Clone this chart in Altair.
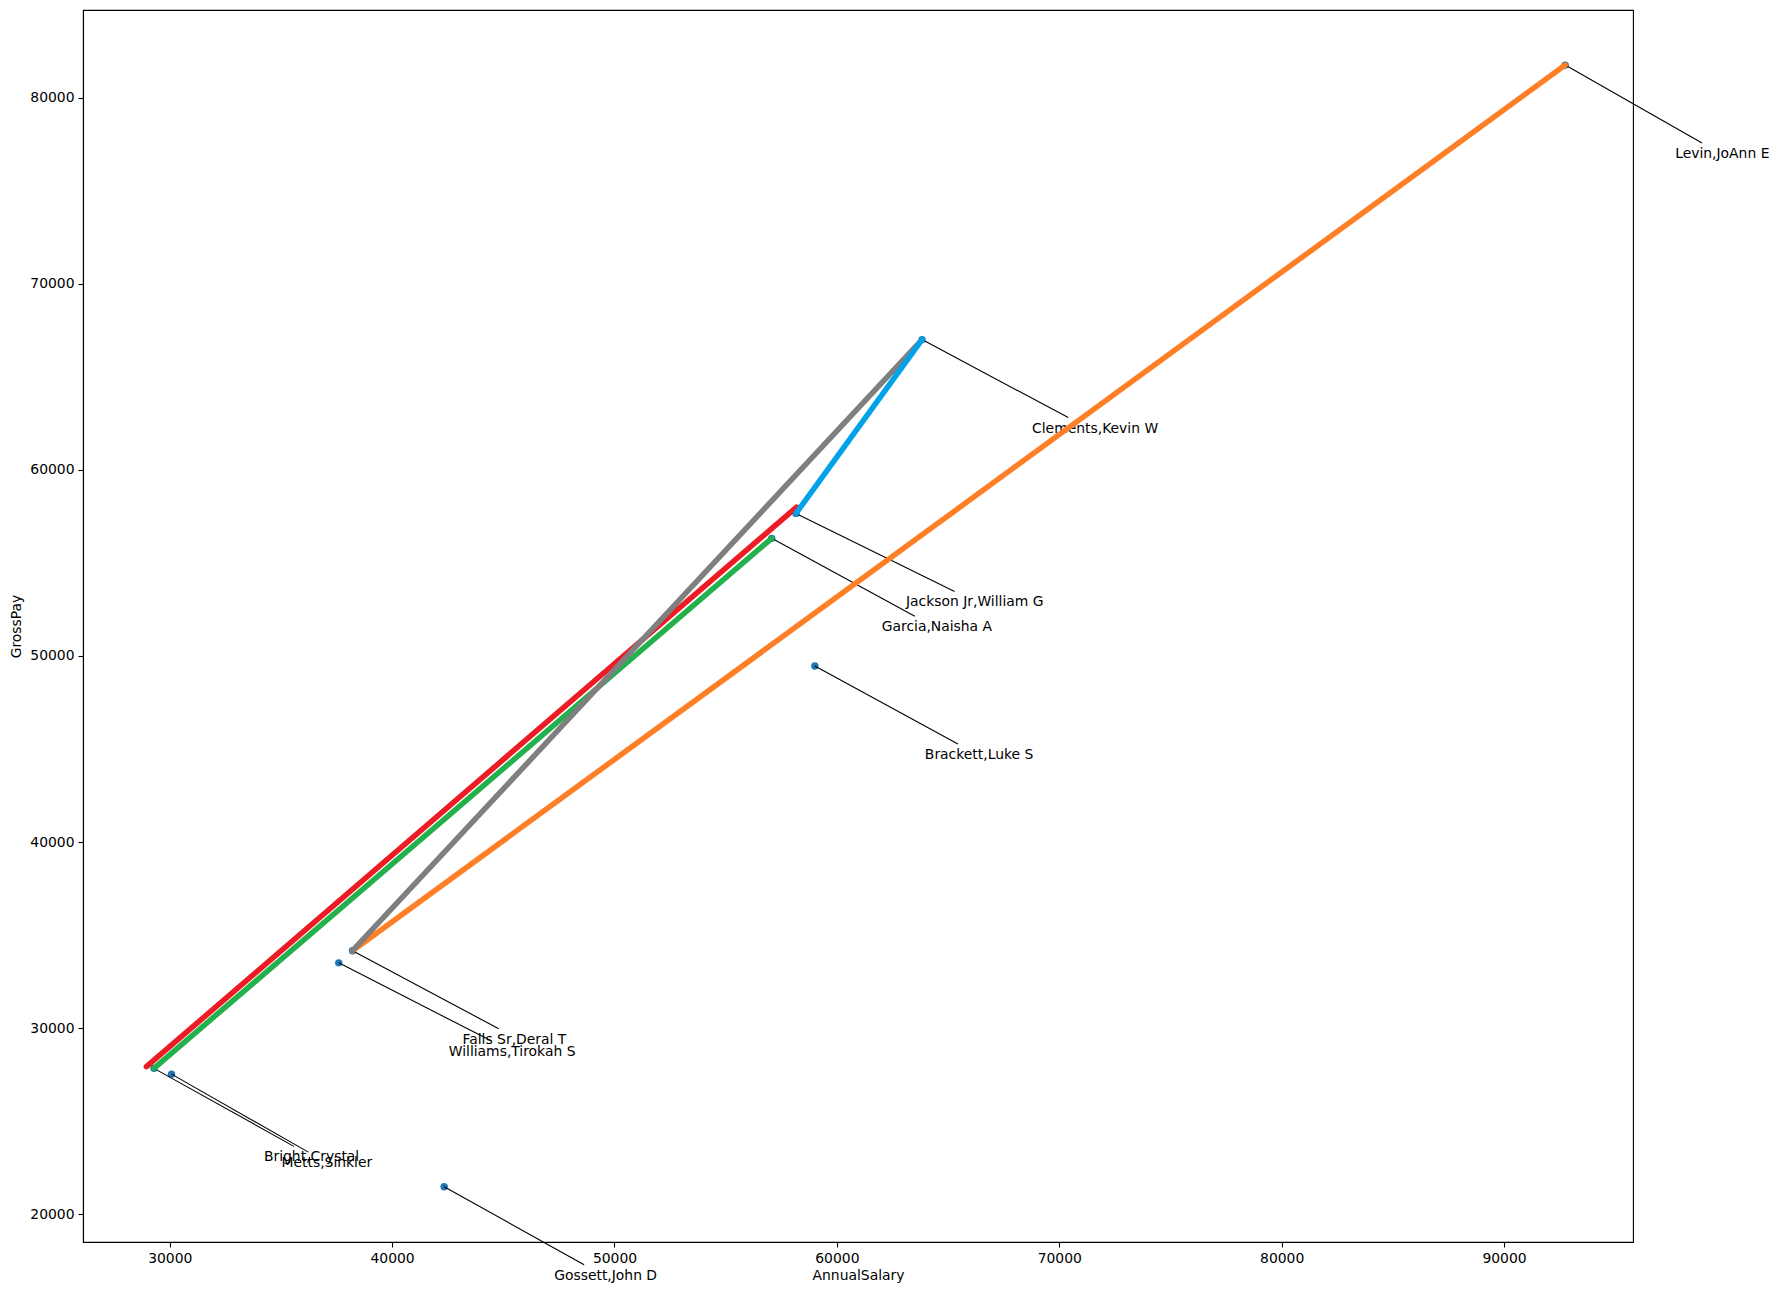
import altair as alt
import pandas as pd

# Annotated employees (blue scatter points)
names = ["Levin,JoAnn E", "Clements,Kevin W", "Jackson Jr,William G", "Garcia,Naisha A",
         "Brackett,Luke S", "Falls Sr,Deral T", "Williams,Tirokah S", "Bright,Crystal",
         "Metts,Sinkler", "Gossett,John D"]
annual_salary = [92750, 63830, 58160, 57070, 59010, 38220, 37600, 29290, 30080, 42340]
gross_pay = [81750, 67000, 57660, 56320, 49460, 34160, 33510, 27840, 27530, 21480]

# Coloured segments (drawn in this order)
seg_names = ["green", "red", "orange", "gray", "blue"]
seg_x0 = [29290, 28950, 38220, 38220, 58160]
seg_y0 = [27840, 27930, 34160, 34160, 57660]
seg_x1 = [57070, 58190, 92750, 63830, 63830]
seg_y1 = [56320, 58000, 81750, 67000, 67000]
seg_colors = ["#22B14C", "#ED1C24", "#FF7F27", "#7F7F7F", "#00A2E8"]

x_ticks = [30000, 40000, 50000, 60000, 70000, 80000, 90000]
y_ticks = [20000, 30000, 40000, 50000, 60000, 70000, 80000]
x_domain = [26100, 95800]
y_domain = [18510, 84710]

FONT = "DejaVu Sans"
W, H = 1550, 1232
TEXT_DX, TEXT_DY = 110, 89

pts = pd.DataFrame({"name": names, "AnnualSalary": annual_salary, "GrossPay": gross_pay})
segs = pd.DataFrame({"seg": seg_names, "x0": seg_x0, "y0": seg_y0, "x1": seg_x1, "y1": seg_y1})

xs = alt.Scale(domain=x_domain, nice=False, zero=False)
ys = alt.Scale(domain=y_domain, nice=False, zero=False)

xenc = alt.X("AnnualSalary:Q", scale=xs, title="AnnualSalary",
             axis=alt.Axis(values=x_ticks, format="d"))
yenc = alt.Y("GrossPay:Q", scale=ys, title="GrossPay",
             axis=alt.Axis(values=y_ticks, format="d"))

points = alt.Chart(pts).mark_circle(size=55, color="#1f77b4", opacity=1).encode(x=xenc, y=yenc)

leaders = []
for n, sx, gy in zip(names, annual_salary, gross_pay):
    w = 7.1 * len(n)
    t = (TEXT_DY - 11) / TEXT_DY
    ex = t * (TEXT_DX + w / 2)
    ey = TEXT_DY - 11
    d = pd.DataFrame({"AnnualSalary": [sx], "GrossPay": [gy]})
    leaders.append(
        alt.Chart(d).mark_rule(color="black", strokeWidth=1.1, x2Offset=ex, y2Offset=ey).encode(
            x=alt.X("AnnualSalary:Q", scale=xs),
            y=alt.Y("GrossPay:Q", scale=ys),
            x2="AnnualSalary:Q",
            y2="GrossPay:Q",
        )
    )

labels = alt.Chart(pts).mark_text(
    align="left", baseline="middle", dx=TEXT_DX, dy=TEXT_DY,
    font=FONT, fontSize=13.9, color="black"
).encode(x=alt.X("AnnualSalary:Q", scale=xs), y=alt.Y("GrossPay:Q", scale=ys), text="name:N")

lines = alt.Chart(segs).mark_rule(strokeWidth=5.5, strokeCap="round", opacity=1).encode(
    x=alt.X("x0:Q", scale=xs),
    y=alt.Y("y0:Q", scale=ys),
    x2="x1:Q",
    y2="y1:Q",
    color=alt.Color("seg:N", scale=alt.Scale(domain=seg_names, range=seg_colors), legend=None),
)

chart = alt.layer(points, *leaders, labels, lines).properties(
    width=W, height=H,
    autosize=alt.AutoSizeParams(type="none"),
    padding={"left": 83, "top": 10, "right": 144, "bottom": 53},
    background="white",
).configure_view(
    stroke="black", strokeWidth=1.1
).configure_axis(
    grid=False,
    labelFont=FONT, labelFontSize=13.9, labelColor="black",
    titleFont=FONT, titleFontSize=13.9, titleFontWeight="normal", titleColor="black",
    tickColor="black", tickSize=5, tickWidth=1.1,
    domainColor="black", domainWidth=1.1,
    labelPadding=4,
).configure_axisX(
    titlePadding=4,
).configure_axisY(
    titlePadding=6,
)

chart.save("out.html", embed_options={"renderer": "svg", "actions": False})
